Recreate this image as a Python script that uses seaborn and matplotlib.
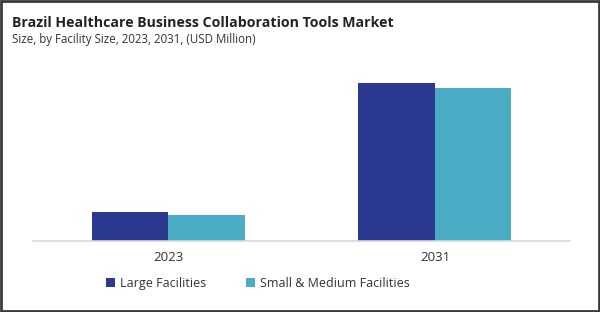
import matplotlib
matplotlib.use("Agg")
import matplotlib.pyplot as plt
import seaborn as sns
import pandas as pd
from matplotlib.patches import Patch

years = ["2023", "2031"]
large_facilities = [14.5, 79.0]
small_medium_facilities = [13.0, 76.5]
series_names = ["Large Facilities", "Small & Medium Facilities"]
colors = ["#2B3990", "#4BACC6"]

df = pd.DataFrame({
    "Year": years * 2,
    "Value": large_facilities + small_medium_facilities,
    "Segment": [series_names[0]] * 2 + [series_names[1]] * 2,
})

sns.set_theme(style="white")
plt.rcParams["font.family"] = ["Open Sans", "DejaVu Sans"]

fig = plt.figure(figsize=(6, 3.12), dpi=100)
ax = fig.add_axes([0.055, 0.2276, 0.895, 0.58])
sns.barplot(data=df, x="Year", y="Value", hue="Segment", palette=colors,
            width=0.573, saturation=1, ax=ax, legend=False, linewidth=0,
            edgecolor="none")
ax.set_xlim(-0.506, 1.506)
ax.set_ylim(0, 90.5)
ax.set_xlabel("")
ax.set_ylabel("")
ax.set_yticks([])
for s in ["top", "right", "left"]:
    ax.spines[s].set_visible(False)
ax.spines["bottom"].set_color("#d9d9d9")
ax.spines["bottom"].set_linewidth(1.2)
ax.tick_params(axis="x", length=0, labelsize=9.5, colors="#333333", pad=7)

fig.text(0.02, 0.925, "Brazil Healthcare Business Collaboration Tools Market",
         fontsize=10.2, fontweight="bold", color="#222222", va="center")
fig.text(0.02, 0.875, "Size, by Facility Size, 2023, 2031, (USD Million)",
         fontsize=8.3, color="#333333", va="center")

handles = [Patch(facecolor=c, edgecolor="none") for c in colors]
fig.legend(handles, series_names, loc="center", bbox_to_anchor=(0.43, 0.092),
           ncol=2, frameon=False, fontsize=9, handlelength=0.7, handleheight=0.7,
           handletextpad=0.4, columnspacing=3.2, labelcolor="#333333")

border = plt.Rectangle((0.002, 0.003), 0.996, 0.994, transform=fig.transFigure,
                       fill=False, edgecolor="#3a3a3a", linewidth=2)
fig.patches.append(border)

fig.savefig("out.png", dpi=100)
